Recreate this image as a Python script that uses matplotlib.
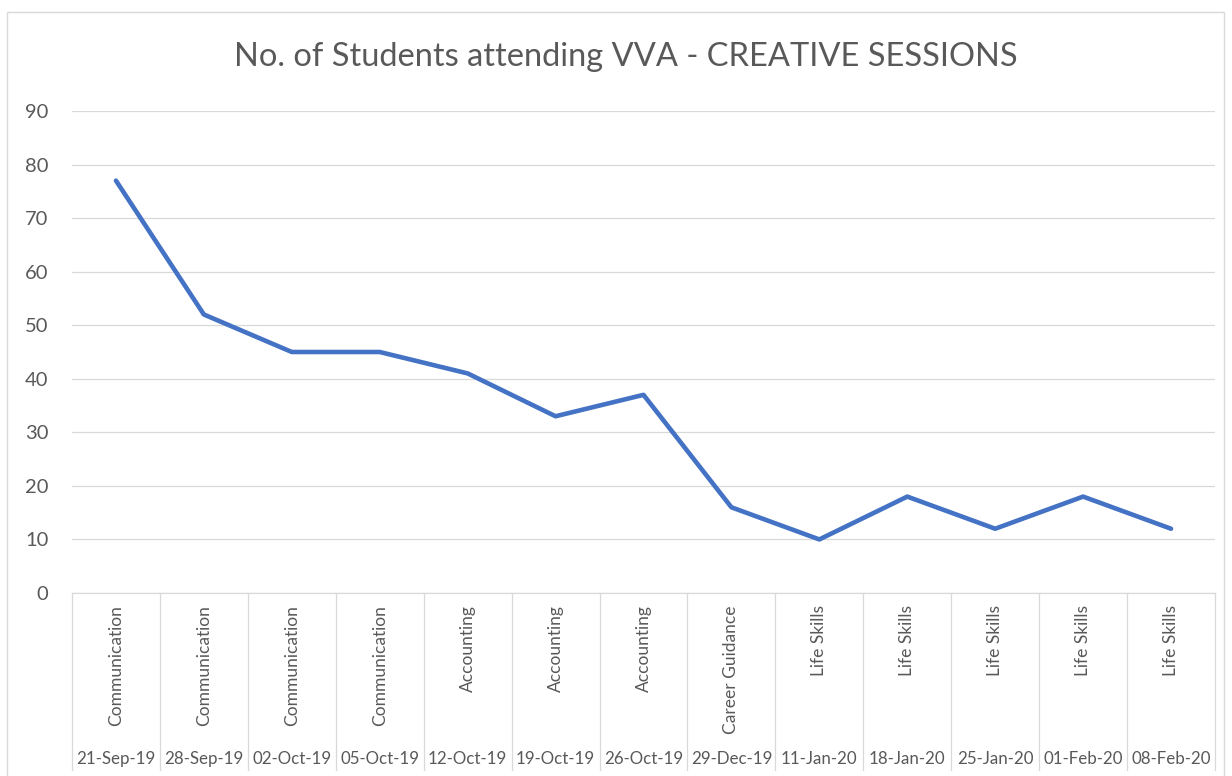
import matplotlib.pyplot as plt
from matplotlib.patches import Rectangle
from matplotlib.transforms import blended_transform_factory

# chart data
sessions = ['Communication', 'Communication', 'Communication', 'Communication',
            'Accounting', 'Accounting', 'Accounting', 'Career Guidance',
            'Life Skills', 'Life Skills', 'Life Skills', 'Life Skills', 'Life Skills']
dates = ['21-Sep-19', '28-Sep-19', '02-Oct-19', '05-Oct-19', '12-Oct-19',
         '19-Oct-19', '26-Oct-19', '29-Dec-19', '11-Jan-20', '18-Jan-20',
         '25-Jan-20', '01-Feb-20', '08-Feb-20']
students = [77, 52, 45, 45, 41, 33, 37, 16, 10, 18, 12, 18, 12]

W, H = 1232, 776
TEXT = '#595959'
GRID = '#D9D9D9'
plt.rcParams['font.family'] = ['Lato', 'DejaVu Sans']

fig = plt.figure(figsize=(W / 100, H / 100), dpi=100)

# outer chart border
fig.patches.append(Rectangle((7 / W, -0.01), (W - 8) / W - 7 / W, (H - 12) / H + 0.01,
                             transform=fig.transFigure, fill=False,
                             edgecolor=GRID, linewidth=1))

left, right, bottom, top = 72, 1215, 593, 111
ax = fig.add_axes([left / W, (H - bottom) / H, (right - left) / W, (bottom - top) / H])

x = list(range(len(students)))
ax.plot(x, students, color='#4472C4', linewidth=3.3, solid_capstyle='round',
        solid_joinstyle='round', zorder=3)

ax.set_xlim(-0.5, len(students) - 0.5)
ax.set_ylim(0, 90)
ax.set_yticks(range(0, 91, 10))
ax.yaxis.grid(True, color=GRID, linewidth=0.9)
ax.set_axisbelow(True)
for s in ['top', 'right', 'left']:
    ax.spines[s].set_visible(False)
ax.spines['bottom'].set_color(GRID)
ax.spines['bottom'].set_linewidth(0.9)
ax.tick_params(axis='y', length=0, pad=17, labelsize=14.5, labelcolor=TEXT)
ax.set_xticks([])

# multi-level category axis
trans = blended_transform_factory(ax.transData, ax.transAxes)
px = 1.0 / (bottom - top)
for i in range(len(students) + 1):
    ax.plot([i - 0.5, i - 0.5], [0, -(770 - bottom) * px], color=GRID,
            linewidth=0.9, transform=trans, clip_on=False)
for i, (s, d) in enumerate(zip(sessions, dates)):
    ax.text(i, -(605 - bottom) * px, s, rotation=90, ha='center', va='top',
            fontsize=12.5, color=TEXT, transform=trans)
    ax.text(i, -(759 - bottom) * px, d, ha='center', va='center',
            fontsize=12.2, color=TEXT, transform=trans)

fig.text(626 / W, 1 - 57 / H, 'No. of Students attending VVA - CREATIVE SESSIONS',
         ha='center', va='center', fontsize=23.5, color=TEXT)

fig.savefig('out.png', dpi=100)
